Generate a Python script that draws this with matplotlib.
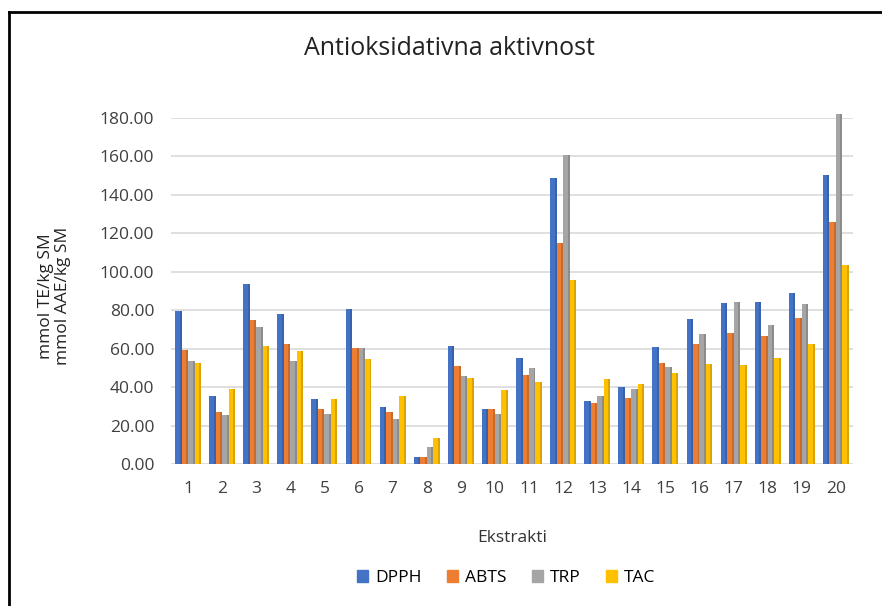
import numpy as np
import matplotlib.pyplot as plt
from matplotlib.lines import Line2D

plt.rcParams['font.family'] = ['Open Sans', 'DejaVu Sans']

categories = [str(i) for i in range(1, 21)]
series_names = ['DPPH', 'ABTS', 'TRP', 'TAC']
dpph = [79.5, 35.2, 93.5, 78.0, 34.0, 80.5, 29.5, 3.8, 61.2, 28.5,
        55.0, 149.0, 32.8, 40.0, 60.8, 75.2, 83.5, 84.5, 89.0, 150.5]
abts = [59.5, 27.3, 74.8, 62.5, 28.6, 60.2, 26.8, 3.8, 51.2, 28.6,
        46.5, 114.8, 31.8, 34.5, 52.5, 62.5, 68.0, 66.8, 76.0, 126.0]
trp = [53.5, 25.3, 71.2, 53.5, 26.0, 60.6, 23.5, 8.6, 46.0, 26.2,
       50.0, 161.0, 35.2, 38.8, 50.6, 67.8, 84.2, 72.5, 83.0, 182.0]
tac = [52.8, 39.1, 61.3, 58.7, 33.8, 54.5, 35.2, 13.4, 44.8, 38.3,
       42.8, 95.5, 44.3, 41.8, 47.2, 51.8, 51.3, 55.0, 62.5, 103.5]
values = [dpph, abts, trp, tac]
colors = ['#4472C4', '#ED7D31', '#A5A5A5', '#FFC000']
side_colors = ['#3A62AA', '#C9692A', '#8C8C8C', '#D9A400']
yticks = np.arange(0, 181, 20)

fig = plt.figure(figsize=(8.82, 6.06), dpi=100)
ax = fig.add_axes([0.1939, 0.2343, 0.7731, 0.571])

x = np.arange(len(categories))
width = 0.19
for i, (name, vals) in enumerate(zip(series_names, values)):
    pos = x + (i - 1.5) * width
    ax.bar(pos, vals, width, color=colors[i], label=name, zorder=3, clip_on=False)
    # darker right face to hint the 3D look
    ax.bar(pos + width * 0.35, vals, width * 0.3, color=side_colors[i],
           zorder=3, clip_on=False)

ax.set_xlim(-0.5, len(categories) - 0.5)
ax.set_ylim(0, 180)
ax.set_yticks(yticks)
ax.set_yticklabels([f'{v:.2f}' for v in yticks], fontsize=12.5, color='#404040')
ax.set_xticks(x)
ax.set_xticklabels(categories, fontsize=12.5, color='#404040')
ax.tick_params(axis='y', length=0, pad=12)
ax.tick_params(axis='x', length=0, pad=12)
ax.yaxis.grid(True, color='#D9D9D9', linewidth=1.2, zorder=0)
for s in ax.spines.values():
    s.set_visible(False)

fig.text(0.51, 0.920, 'Antioksidativna aktivnost', ha='center', va='center',
         fontsize=18, color='#222222')
fig.text(0.062, 0.512, 'mmol TE/kg SM\nmmol AAE/kg SM', rotation=90,
         ha='center', va='center', fontsize=12.5, color='#222222',
         linespacing=1.05)
fig.text(0.581, 0.113, 'Ekstrakti', ha='center', va='center', fontsize=12.5,
         color='#333333')

handles = [plt.Rectangle((0, 0), 1, 1, color=c) for c in colors]
fig.legend(handles, series_names, loc='center', bbox_to_anchor=(0.574, 0.046),
           ncol=4, frameon=False, fontsize=12.5, handlelength=0.6,
           handleheight=0.6, columnspacing=1.5, handletextpad=0.4)

fig.add_artist(Line2D([9 / 882, 1.0], [1 - 12 / 606, 1 - 12 / 606],
                      transform=fig.transFigure, color='black', linewidth=2))
fig.add_artist(Line2D([9 / 882, 9 / 882], [0, 1 - 12 / 606],
                      transform=fig.transFigure, color='black', linewidth=2))

fig.savefig('out.png', dpi=100)
